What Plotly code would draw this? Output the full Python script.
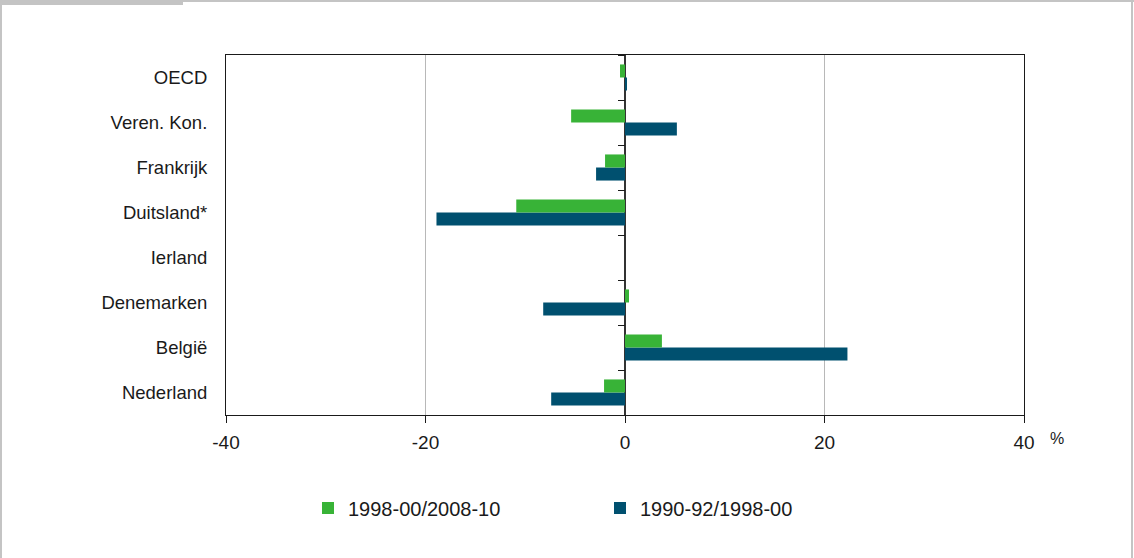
import plotly.graph_objects as go

# Landen (van onder naar boven zoals in de grafiek)
landen = ["Nederland", "België", "Denemarken", "Ierland", "Duitsland*",
          "Frankrijk", "Veren. Kon.", "OECD"]

# Procentuele verandering per periode
periode_recent = [-2.1, 3.7, 0.4, None, -10.9, -2.0, -5.4, -0.5]   # 1998-00/2008-10
periode_vroeg = [-7.4, 22.3, -8.2, None, -18.9, -2.9, 5.2, 0.2]    # 1990-92/1998-00

x_ticks = [-40, -20, 0, 20, 40]
x_ticklabels = ["-40", "-20", "0", "20", "40"]

GROEN = "#38B337"
BLAUW = "#00506F"
FONT = "Liberation Sans Narrow, Arial Narrow, Liberation Sans, Arial, sans-serif"

W, H = 1134, 558
px0, px1 = 226, 1024        # plotgebied horizontaal (px)
py0, py1 = 55, 415          # plotgebied verticaal (px)

fig = go.Figure()

# Eerste trace komt onderaan in de groep
fig.add_trace(go.Bar(
    y=landen, x=periode_vroeg, orientation="h", name="1990-92/1998-00",
    marker=dict(color=BLAUW, line=dict(width=0)), legendrank=2,
))
fig.add_trace(go.Bar(
    y=landen, x=periode_recent, orientation="h", name="1998-00/2008-10",
    marker=dict(color=GROEN, line=dict(width=0)), legendrank=1,
))

# Onzichtbare trace voor de tweede y-as (streepjes op de nullijn)
fig.add_trace(go.Scatter(
    y=landen, x=[0] * len(landen), yaxis="y2", mode="markers",
    marker=dict(opacity=0), showlegend=False, hoverinfo="skip",
))

xdom = [px0 / W, px1 / W]
ydom = [1 - py1 / H, 1 - py0 / H]
zero_pos = (px0 + (0 - x_ticks[0]) / (x_ticks[-1] - x_ticks[0]) * (px1 - px0)) / W

fig.update_layout(
    template="none",
    width=W, height=H, autosize=False,
    margin=dict(l=0, r=0, t=0, b=0, pad=0, autoexpand=False),
    paper_bgcolor="white", plot_bgcolor="white",
    font=dict(family=FONT, size=18, color="#1a1a1a"),
    barmode="group", bargap=0.42, bargroupgap=0,
    xaxis=dict(
        domain=xdom, range=[x_ticks[0], x_ticks[-1]], automargin=False,
        tickmode="array", tickvals=x_ticks, ticktext=x_ticklabels,
        ticks="outside", ticklen=7, tickcolor="#1a1a1a", tickwidth=1,
        ticklabelstandoff=3,
        showgrid=True, gridcolor="#b8b8b8", gridwidth=1,
        zeroline=True, zerolinecolor="#333333", zerolinewidth=1.5,
        showline=True, linecolor="#1a1a1a", linewidth=1, mirror=True,
        tickfont=dict(size=19), fixedrange=True,
    ),
    yaxis=dict(
        domain=ydom, type="category", categoryorder="array", categoryarray=landen,
        automargin=False, ticks="", showgrid=False, zeroline=False,
        ticklabelstandoff=14,
        showline=True, linecolor="#1a1a1a", linewidth=1, mirror=True,
        tickfont=dict(size=18.5),
    ),
    yaxis2=dict(
        overlaying="y", anchor="free", position=zero_pos, side="left",
        type="category", categoryorder="array", categoryarray=landen,
        matches="y", tickson="boundaries", ticks="outside", ticklen=7,
        tickcolor="#1a1a1a", tickwidth=1, showticklabels=False, automargin=False,
        showgrid=False, showline=False, zeroline=False,
    ),
    legend=dict(
        orientation="h", x=308 / W, xanchor="left", y=1 - 508 / H, yanchor="middle",
        entrywidth=247, entrywidthmode="pixels",
        font=dict(size=20), bgcolor="rgba(0,0,0,0)", borderwidth=0,
    ),
    showlegend=True,
)

# Eenheid bij de x-as
fig.add_annotation(
    text="%", xref="paper", yref="paper", x=1057 / W, y=1 - 438 / H,
    showarrow=False, font=dict(size=16), xanchor="center", yanchor="middle",
)

# Grijze kaderlijnen rond de figuur
fig.add_shape(type="rect", xref="paper", yref="paper", x0=0, x1=183 / W,
              y0=1 - 5 / H, y1=1, fillcolor="#c4c4c4", line=dict(width=0), layer="below")
fig.add_shape(type="rect", xref="paper", yref="paper", x0=183 / W, x1=1,
              y0=1 - 2 / H, y1=1, fillcolor="#c4c4c4", line=dict(width=0), layer="below")
fig.add_shape(type="rect", xref="paper", yref="paper", x0=0, x1=2 / W,
              y0=0, y1=1, fillcolor="#c4c4c4", line=dict(width=0), layer="below")
fig.add_shape(type="rect", xref="paper", yref="paper", x0=1131 / W, x1=1133 / W,
              y0=0, y1=1, fillcolor="#c4c4c4", line=dict(width=0), layer="below")

fig.write_html("out.html")
